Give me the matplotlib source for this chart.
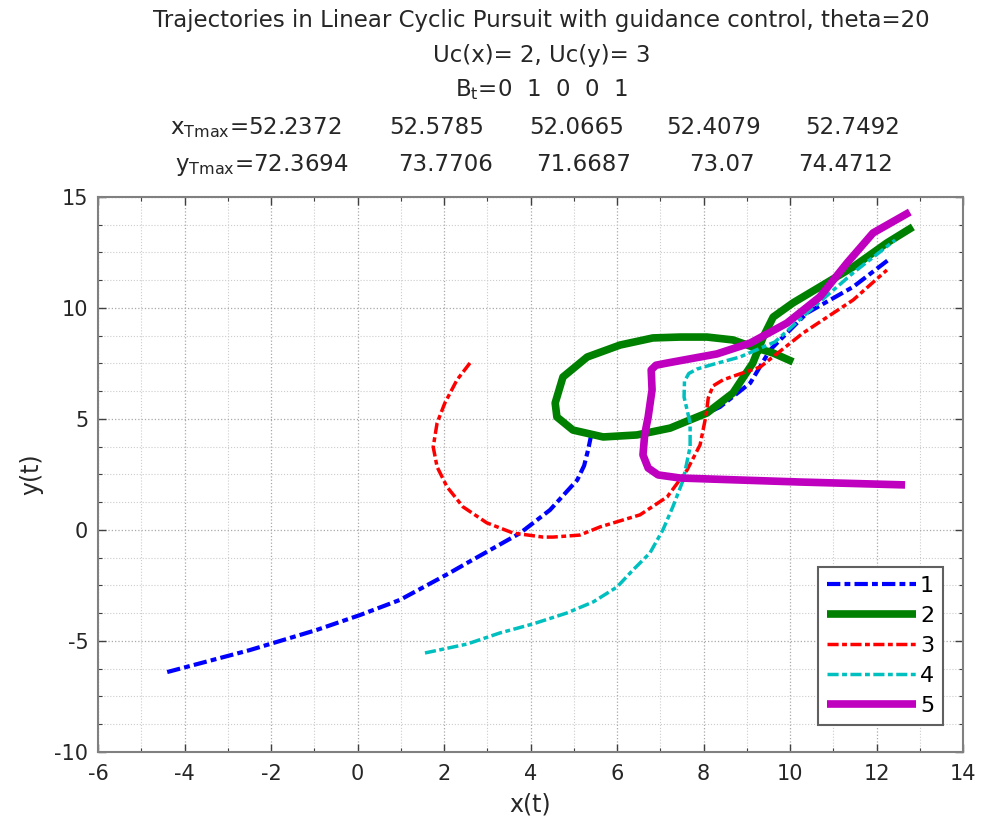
import matplotlib.pyplot as plt

plt.rcParams['font.family'] = ['DejaVu Sans']
plt.rcParams['mathtext.fontset'] = 'dejavusans'
plt.rcParams['axes.unicode_minus'] = False

# %% traced trajectories
x1 = [-4.40, -2.49, -0.94, 0.06, 0.98, 2.09, 2.53, 3.76, 4.45, 5.08, 5.24, 5.33, 5.40,
      5.68, 6.46, 7.23, 7.90, 8.38, 9.08, 9.54, 10.39, 11.46, 12.27]
y1 = [-6.40, -5.41, -4.50, -3.83, -3.15, -1.98, -1.49, -0.14, 0.90, 2.25, 2.90, 3.60, 4.25,
      4.22, 4.30, 4.60, 5.10, 5.54, 6.62, 8.11, 9.77, 10.95, 12.16]

x2 = [10.07, 9.61, 9.14, 8.68, 8.08, 7.46, 6.83, 6.07, 5.31, 4.75, 4.57, 4.61, 4.98,
      5.68, 6.46, 7.23, 8.08, 8.68, 9.14, 9.38, 9.61, 10.07, 10.69, 11.46, 12.24, 12.84]
y2 = [7.57, 7.97, 8.24, 8.56, 8.69, 8.69, 8.65, 8.33, 7.79, 6.89, 5.72, 5.09, 4.50,
      4.19, 4.28, 4.59, 5.27, 6.17, 7.52, 8.69, 9.59, 10.23, 10.95, 11.85, 12.93, 13.65]

x3 = [2.60, 2.30, 2.02, 1.84, 1.75, 1.84, 2.07, 2.44, 2.99, 3.60, 4.29, 4.52, 5.14,
      5.61, 6.53, 7.16, 7.62, 7.92, 8.06, 8.11, 8.22, 8.45, 8.84, 9.31, 10.30, 11.46, 12.24]
y3 = [7.52, 6.76, 5.72, 4.82, 3.74, 2.84, 1.94, 1.04, 0.32, -0.14, -0.32, -0.32, -0.23,
      0.14, 0.68, 1.49, 2.70, 3.83, 5.18, 5.95, 6.49, 6.76, 7.03, 7.34, 8.87, 10.36, 11.71]

x4 = [1.56, 2.53, 3.29, 4.06, 4.84, 5.45, 6.00, 6.37, 6.76, 7.06, 7.29, 7.53, 7.69,
      7.69, 7.55, 7.56, 7.66, 7.85, 8.20, 8.84, 9.65, 10.39, 11.46, 12.43]
y4 = [-5.54, -5.14, -4.64, -4.23, -3.74, -3.24, -2.57, -1.80, -1.04, 0.00, 1.04, 2.25, 3.74,
      4.82, 5.99, 6.70, 7.05, 7.25, 7.45, 7.79, 8.47, 9.77, 11.58, 13.06]

x5 = [12.66, 10.23, 7.92, 7.46, 6.95, 6.72, 6.60, 6.64, 6.72, 6.81, 6.79, 6.90, 7.16,
      8.31, 9.08, 9.93, 10.69, 11.32, 11.92, 12.77]
y5 = [2.03, 2.16, 2.31, 2.34, 2.48, 2.79, 3.38, 4.30, 5.09, 6.31, 7.21, 7.42, 7.52,
      7.93, 8.42, 9.32, 10.50, 12.03, 13.38, 14.32]

labels = ['1', '2', '3', '4', '5']
bt = '0  1  0  0  1'
xtmax = ['52.2372', '52.5785', '52.0665', '52.4079', '52.7492']
ytmax = ['72.3694', '73.7706', '71.6687', '73.07', '74.4712']

# %% figure
fig = plt.figure(figsize=(9.86, 8.36), dpi=100)
ax = fig.add_axes([0.0994, 0.1005, 0.8773, 0.6639])

dashdot = (0, (3.2, 1, 1.4, 1))
ax.plot(x1, y1, color='#0000ff', lw=3, ls=dashdot, label=labels[0])
ax.plot(x2, y2, color='#008000', lw=5.5, label=labels[1], solid_joinstyle='round', solid_capstyle='butt')
ax.plot(x3, y3, color='#ff0000', lw=2.5, ls=dashdot, label=labels[2])
ax.plot(x4, y4, color='#00bfbf', lw=2.5, ls=dashdot, label=labels[3])
ax.plot(x5, y5, color='#bf00bf', lw=5.5, label=labels[4], solid_joinstyle='round', solid_capstyle='butt')

ax.set_xlim(-6, 14)
ax.set_ylim(-10, 15)
ax.set_xticks(range(-6, 15, 2))
ax.set_yticks(range(-10, 16, 5))
ax.set_xticks([v + 1 for v in range(-6, 14, 2)], minor=True)
ax.set_yticks([-10 + 1.25 * i for i in range(21)], minor=True)
ax.grid(which='major', ls=':', color='#a8a8a8', lw=0.9)
ax.grid(which='minor', ls=':', color='#cccccc', lw=0.8)
ax.tick_params(which='both', direction='in', top=True, right=True, colors='#404040',
               labelcolor='#262626', labelsize=15)
ax.tick_params(which='major', length=6, width=1)
ax.tick_params(which='minor', length=3, width=0.8)
ax.tick_params(axis='x', which='major', pad=9)
ax.tick_params(axis='y', which='major', pad=7)
for s in ax.spines.values():
    s.set_color('#808080')
    s.set_linewidth(1.5)

ax.set_xlabel('x(t)', fontsize=17, color='#262626', labelpad=6)
ax.set_ylabel('y(t)', fontsize=17, color='#262626', labelpad=8)

leg = ax.legend(loc='lower right', bbox_to_anchor=(0.977, 0.049), borderaxespad=0,
                fontsize=16, handlelength=4.0, handletextpad=0.2, labelspacing=0.45,
                fancybox=False, framealpha=1, edgecolor='#606060', borderpad=0.4)
leg.get_frame().set_linewidth(1.5)

# %% title block
tc = '#262626'
fs = 16.5
fig.text(0.549, 0.976, 'Trajectories in Linear Cyclic Pursuit with guidance control, theta=20',
         ha='center', va='center', fontsize=fs, color=tc)
fig.text(0.549, 0.934, 'Uc(x)= 2, Uc(y)= 3', ha='center', va='center', fontsize=fs, color=tc)
fig.text(0.549, 0.893, r'B$_{\mathrm{t}}$=' + bt, ha='center', va='center', fontsize=fs, color=tc)

xcols = [0.259, 0.443, 0.585, 0.724, 0.865]
ycols = [0.265, 0.452, 0.592, 0.732, 0.858]
for i, v in enumerate(xtmax):
    s = r'x$_{\mathrm{Tmax}}$=' + v if i == 0 else v
    fig.text(xcols[i], 0.847, s, ha='center', va='center', fontsize=fs, color=tc)
for i, v in enumerate(ytmax):
    s = r'y$_{\mathrm{Tmax}}$=' + v if i == 0 else v
    fig.text(ycols[i], 0.803, s, ha='center', va='center', fontsize=fs, color=tc)

fig.savefig('out.png', dpi=100)
